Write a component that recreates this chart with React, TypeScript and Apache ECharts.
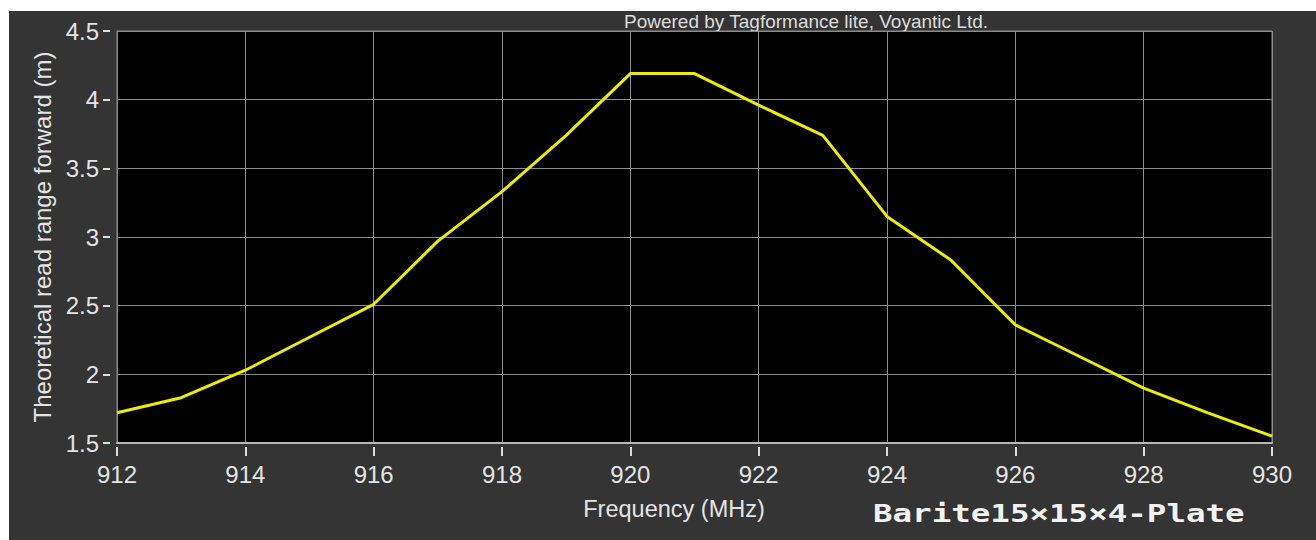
import React, { useEffect, useRef } from "react";
import * as echarts from "echarts";

const frequencies = [912, 913, 914, 915, 916, 917, 918, 919, 920, 921, 922, 923, 924, 925, 926, 927, 928, 929, 930];
const readRange = [1.72, 1.83, 2.03, 2.27, 2.51, 2.97, 3.33, 3.74, 4.19, 4.19, 3.96, 3.74, 3.15, 2.83, 2.36, 2.13, 1.9, 1.72, 1.55];

const xMin = 912;
const xMax = 930;
const xStep = 2;
const yMin = 1.5;
const yMax = 4.5;
const yStep = 0.5;

const xTitle = "Frequency (MHz)";
const yTitle = "Theoretical read range forward (m)";
const poweredBy = "Powered by Tagformance lite, Voyantic Ltd.";
const tagLabel = "Barite15×15×4-Plate";

const FONT = "'Liberation Sans', Arial, sans-serif";
const TEXT = "#e4e4e4";

export default function App() {
  const ref = useRef<HTMLDivElement>(null);

  useEffect(() => {
    if (!ref.current) return;
    const chart = echarts.init(ref.current, undefined, { renderer: "svg" });
    const data = frequencies.map((f, i) => [f, readRange[i]]);
    chart.setOption({
      animation: false,
      backgroundColor: "#343434",
      grid: {
        left: 108,
        right: 44,
        top: 20,
        bottom: 97,
        show: true,
        backgroundColor: "#000000",
        borderColor: "#8a8a8a",
        borderWidth: 1,
      },
      xAxis: [
        {
          type: "value",
          min: xMin,
          max: xMax,
          interval: xStep,
          position: "bottom",
          axisLine: { show: true, onZero: false, lineStyle: { color: "#b8b8b8", width: 2 } },
          axisTick: { show: false },
          axisLabel: { color: TEXT, fontSize: 24, fontFamily: FONT, margin: 19 },
          splitLine: { show: true, lineStyle: { color: "#8c8c8c", width: 1 } },
          name: xTitle,
          nameLocation: "middle",
          nameGap: 54,
          nameTextStyle: { color: TEXT, fontSize: 23.5, fontFamily: FONT, padding: [0, 41, 0, 0] },
        },
        {
          type: "value",
          min: xMin,
          max: xMax,
          interval: xStep,
          position: "bottom",
          offset: 4,
          axisLine: { show: false },
          axisTick: { show: true, length: 9, lineStyle: { color: "#dddddd", width: 2 } },
          axisLabel: { show: false },
          splitLine: { show: false },
        },
      ],
      yAxis: [
        {
          type: "value",
          min: yMin,
          max: yMax,
          interval: yStep,
          position: "left",
          axisLine: { show: true, onZero: false, lineStyle: { color: "#8a8a8a", width: 1 } },
          axisTick: { show: false },
          axisLabel: { color: TEXT, fontSize: 24, fontFamily: FONT, margin: 18 },
          splitLine: { show: true, lineStyle: { color: "#8c8c8c", width: 1 } },
          name: yTitle,
          nameLocation: "middle",
          nameGap: 62,
          nameTextStyle: { color: TEXT, fontSize: 24, fontFamily: FONT },
        },
        {
          type: "value",
          min: yMin,
          max: yMax,
          interval: yStep,
          position: "left",
          offset: 7,
          axisLine: { show: false },
          axisTick: { show: true, length: 7, lineStyle: { color: "#dddddd", width: 2 } },
          axisLabel: { show: false },
          splitLine: { show: false },
        },
      ],
      graphic: [
        {
          type: "text",
          x: 797,
          y: 10,
          style: {
            text: poweredBy,
            fill: "#dcdcdc",
            fontSize: 19,
            fontFamily: FONT,
            align: "center",
            verticalAlign: "middle",
          },
        },
        {
          type: "text",
          x: 864,
          y: 502,
          scaleX: 1.3,
          style: {
            text: tagLabel,
            fill: "#f2f2f2",
            fontSize: 25,
            fontWeight: "bold",
            fontFamily: "'DejaVu Sans Mono', monospace",
            align: "left",
            verticalAlign: "middle",
          },
        },
      ],
      series: [
        {
          type: "line",
          xAxisIndex: 0,
          yAxisIndex: 0,
          data,
          showSymbol: false,
          symbol: "none",
          lineStyle: { color: "#ecec00", width: 3 },
          z: 5,
        },
      ],
    });
    return () => chart.dispose();
  }, []);

  return (
    <div
      ref={ref}
      style={{ position: "fixed", left: 9, top: 11, width: 1307, height: 529 }}
    />
  );
}
